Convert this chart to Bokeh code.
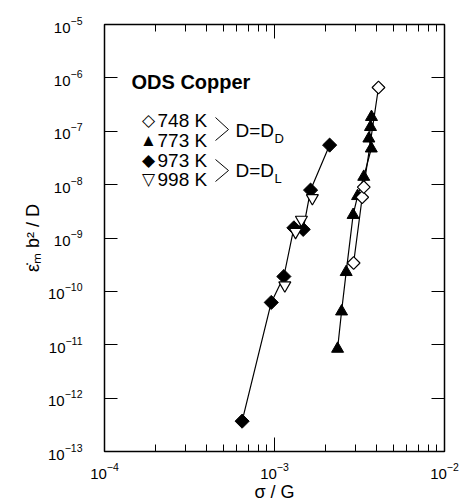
import numpy as np
from bokeh.plotting import figure
from bokeh.models import (FixedTicker, LogAxis, Label, Arrow, CustomJSTickFormatter, Range1d)
from bokeh.embed import file_html
from bokeh.resources import INLINE

# ---------------- data ----------------
x_748 = [2.92e-3, 3.28e-3, 3.35e-3, 4.09e-3]
y_748 = [3.4e-10, 5.8e-9, 9.0e-9, 6.6e-7]

x_773 = [2.35e-3, 2.48e-3, 2.64e-3, 2.90e-3, 3.08e-3, 3.35e-3, 3.71e-3, 3.59e-3, 3.67e-3, 3.72e-3]
y_773 = [8.4e-12, 4.2e-11, 2.3e-10, 2.7e-9, 6.1e-9, 1.4e-8, 4.75e-8, 7.3e-8, 1.2e-7, 1.85e-7]

x_973 = [6.45e-4, 9.57e-4, 1.135e-3, 1.30e-3, 1.475e-3, 1.63e-3, 2.11e-3]
y_973 = [3.7e-13, 6.2e-11, 1.9e-10, 1.55e-9, 1.45e-9, 7.9e-9, 5.5e-8]

x_998 = [1.15e-3, 1.33e-3, 1.44e-3, 1.67e-3]
y_998 = [1.3e-10, 1.3e-9, 2.2e-9, 5.6e-9]

x_major = [1e-4, 1e-3, 1e-2]
x_minor = [2e-4, 3e-4, 4e-4, 5e-4, 6e-4, 7e-4, 8e-4, 9e-4,
           2e-3, 3e-3, 4e-3, 5e-3, 6e-3, 7e-3, 8e-3, 9e-3]
y_major = [1e-13, 1e-12, 1e-11, 1e-10, 1e-9, 1e-8, 1e-7, 1e-6, 1e-5]

FONT = "Liberation Sans"

p = figure(width=464, height=504, x_axis_type="log", y_axis_type="log",
           x_range=Range1d(1e-4, 1e-2), y_range=Range1d(1e-13, 1e-5),
           output_backend="svg", toolbar_location=None,
           min_border_left=104, min_border_right=20, min_border_top=24, min_border_bottom=52)
p.background_fill_color = "white"
p.border_fill_color = "white"
p.xgrid.visible = False
p.ygrid.visible = False
p.outline_line_color = "black"
p.outline_line_width = 1.5

bottom = p.below[0]
left = p.left[0]

xticker = FixedTicker(ticks=x_major, minor_ticks=x_minor)
yticker = FixedTicker(ticks=y_major, minor_ticks=[])

top = LogAxis(formatter=CustomJSTickFormatter(code="return ''"))
right = LogAxis(formatter=CustomJSTickFormatter(code="return ''"))
p.add_layout(top, "above")
p.add_layout(right, "right")

for ax in [bottom, top]:
    ax.ticker = xticker
    ax.major_tick_in = 14
    ax.minor_tick_in = 7
for ax in [left, right]:
    ax.ticker = yticker
    ax.major_tick_in = 13
    ax.minor_tick_in = 0
for ax in [bottom, top, left, right]:
    ax.axis_line_color = None
    ax.major_tick_out = 0
    ax.minor_tick_out = 0
    ax.major_tick_line_color = "black"
    ax.minor_tick_line_color = "black"
    ax.major_tick_line_width = 1
    ax.minor_tick_line_width = 1
    ax.major_label_text_font = FONT
    ax.major_label_text_font_size = "15px"
    ax.major_label_text_color = "black"

bottom.major_label_standoff = 11
left.major_label_standoff = 22

bottom.axis_label = "σ / G"
left.axis_label = "ε̇ₘ b² / D"
for ax in [bottom, left]:
    ax.axis_label_text_font = FONT
    ax.axis_label_text_font_size = "18px"
    ax.axis_label_text_font_style = "normal"
    ax.axis_label_text_color = "black"
bottom.axis_label_standoff = 0
left.axis_label_standoff = 2

# ---------------- series ----------------
LW = 1.2
p.line(x_973, y_973, line_color="black", line_width=LW)
p.line(x_773, y_773, line_color="black", line_width=LW)
p.line(x_748, y_748, line_color="black", line_width=LW)

p.scatter(x_973, y_973, marker="square", angle=np.pi / 4, size=10,
          fill_color="black", line_color="black")
p.scatter(x_998, y_998, marker="inverted_triangle", size=12,
          fill_color="white", line_color="black", line_width=1.2)
p.scatter(x_773, y_773, marker="triangle", size=12,
          fill_color="black", line_color="black")
p.scatter(x_748, y_748, marker="square", angle=np.pi / 4, size=9,
          fill_color="white", line_color="black", line_width=1.2)

# ---------------- legend / annotations (frame-relative screen px) ----------------
FH = 428  # frame height


def lab(x, y, text, size, style="normal", align="left"):
    p.add_layout(Label(x=x, y=FH - y, x_units="screen", y_units="screen", text=text,
                       text_font=FONT, text_font_size=size, text_font_style=style,
                       text_align=align, text_baseline="middle", text_color="black"))


lab(27, 58, "ODS Copper", "20px", style="bold")

rows = [("◇", "748 K", 97), ("▲", "773 K", 117), ("◆", "973 K", 137), ("▽", "998 K", 156)]
for sym, txt, yy in rows:
    lab(44, yy, sym, "17px", align="center")
    lab(53, yy, txt, "19px")

for y0, y1, y2 in [(94, 106, 117), (136, 147, 158)]:
    p.add_layout(Arrow(end=None, x_start=111, y_start=FH - y0, x_end=124, y_end=FH - y1,
                       start_units="screen", end_units="screen", line_width=1, line_color="black"))
    p.add_layout(Arrow(end=None, x_start=124, y_start=FH - y1, x_end=111, y_end=FH - y2,
                       start_units="screen", end_units="screen", line_width=1, line_color="black"))

lab(131, 107, "D=D", "19px")
lab(170, 115, "D", "13px")
lab(131, 147, "D=D", "19px")
lab(170, 155, "L", "13px")

open("out.html", "w").write(file_html(p, INLINE))
